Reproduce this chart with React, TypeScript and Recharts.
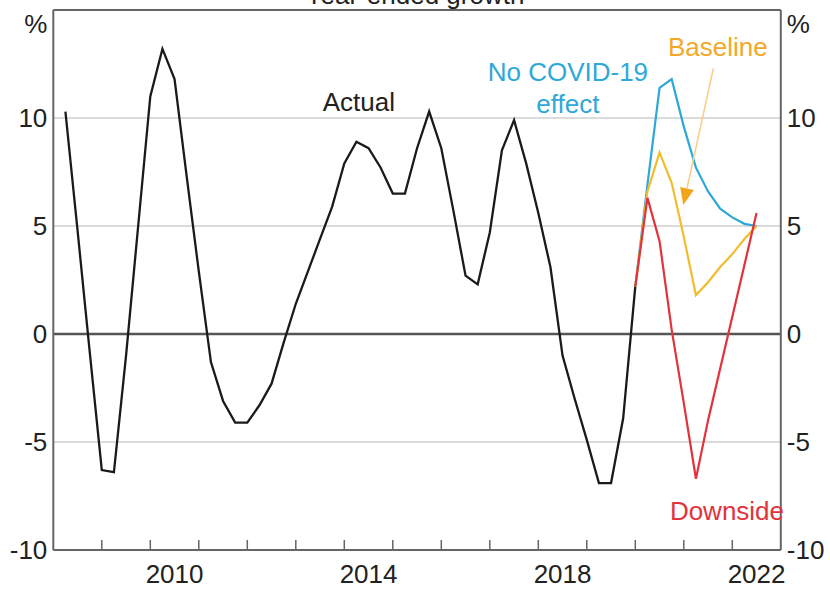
import React from 'react';
import {
  LineChart,
  Line,
  XAxis,
  YAxis,
  CartesianGrid,
  ReferenceLine,
  ReferenceDot,
} from 'recharts';

// Quarterly observations (plotted at end of quarter)
const quarters = [
  '2008Q1', '2008Q2', '2008Q3', '2008Q4',
  '2009Q1', '2009Q2', '2009Q3', '2009Q4',
  '2010Q1', '2010Q2', '2010Q3', '2010Q4',
  '2011Q1', '2011Q2', '2011Q3', '2011Q4',
  '2012Q1', '2012Q2', '2012Q3', '2012Q4',
  '2013Q1', '2013Q2', '2013Q3', '2013Q4',
  '2014Q1', '2014Q2', '2014Q3', '2014Q4',
  '2015Q1', '2015Q2', '2015Q3', '2015Q4',
  '2016Q1', '2016Q2', '2016Q3', '2016Q4',
  '2017Q1', '2017Q2', '2017Q3', '2017Q4',
  '2018Q1', '2018Q2', '2018Q3', '2018Q4',
  '2019Q1', '2019Q2', '2019Q3', '2019Q4',
  '2020Q1', '2020Q2', '2020Q3', '2020Q4',
  '2021Q1', '2021Q2', '2021Q3', '2021Q4',
  '2022Q1', '2022Q2',
];

const actual = [
  10.3, 4.8, -0.8, -6.3, -6.4, -1.0, 5.0, 11.0,
  13.2, 11.8, 7.3, 2.9, -1.3, -3.1, -4.1, -4.1,
  -3.3, -2.3, -0.4, 1.4, 2.9, 4.4, 5.9, 7.9,
  8.9, 8.6, 7.7, 6.5, 6.5, 8.6, 10.3, 8.6,
  5.7, 2.7, 2.3, 4.7, 8.5, 9.9, 7.9, 5.6,
  3.1, -1.0, -3.0, -4.9, -6.9, -6.9, -3.9, 2.2,
];

const forecastStart = '2019Q4';
const noCovid = [2.2, 6.9, 11.4, 11.8, 9.6, 7.7, 6.6, 5.8, 5.4, 5.1, 5.0];
const baseline = [2.2, 6.6, 8.4, 7.0, 4.5, 1.8, 2.4, 3.1, 3.7, 4.4, 5.0];
const downside = [2.2, 6.3, 4.3, 0.2, -3.2, -6.7, -4.0, -1.6, 0.8, 3.2, 5.6];

const yTicks = [-10, -5, 0, 5, 10, 15];
const yearTicks = [2009, 2010, 2011, 2012, 2013, 2014, 2015, 2016, 2017, 2018, 2019, 2020, 2021, 2022];
const yearLabels = [2010, 2014, 2018, 2022];

const toT = (q: string) => Number(q.slice(0, 4)) + Number(q.slice(5)) / 4;
const fcIdx = quarters.indexOf(forecastStart);

const data = quarters.map((q, i) => ({
  t: toT(q),
  actual: i < actual.length ? actual[i] : null,
  noCovid: i >= fcIdx ? noCovid[i - fcIdx] : null,
  baseline: i >= fcIdx ? baseline[i - fcIdx] : null,
  downside: i >= fcIdx ? downside[i - fcIdx] : null,
}));

const xTicks = [...yearTicks, ...yearLabels.map((y) => y + 0.5)].sort((a, b) => a - b);

const FONT = '"Liberation Sans", Arial, sans-serif';
const FS = 26;
const TEXT = '#222';
const AXIS = '#666';

const C_ACTUAL = '#1a1a1a';
const C_BLUE = '#2ea8d8';
const C_YELLOW = '#f2bd2c';
const C_YELLOW_TXT = '#f4a82a';
const C_RED = '#e2323c';

const YTick = (props: any) => {
  const { x, y, payload, textAnchor } = props;
  const isTop = payload.value === 15;
  return (
    <text
      x={x}
      y={isTop ? y + 14 : y}
      dy="0.355em"
      textAnchor={textAnchor}
      fill={TEXT}
      fontSize={FS}
      fontFamily={FONT}
    >
      {isTop ? '%' : String(payload.value)}
    </text>
  );
};

const XTick = (props: any) => {
  const { x, y, payload } = props;
  const v = payload.value;
  if (Number.isInteger(v)) {
    return <line x1={x} x2={x} y1={y} y2={y - 10} stroke={AXIS} strokeWidth={1.5} />;
  }
  return (
    <text x={x} y={y + 15} dy="0.71em" textAnchor="middle" fill={TEXT} fontSize={FS} fontFamily={FONT}>
      {String(Math.floor(v))}
    </text>
  );
};

const makeLabel = (text: string, color: string) => (props: any) => {
  const vb = props.viewBox || {};
  const cx = (vb.x ?? 0) + (vb.width ?? 0) / 2;
  const cy = (vb.y ?? 0) + (vb.height ?? 0) / 2;
  return (
    <text x={cx} y={cy} textAnchor="middle" fill={color} fontSize={FS} fontFamily={FONT}>
      {text}
    </text>
  );
};

const ArrowShape = (p: any) => {
  const { x1, y1, x2, y2 } = p;
  if ([x1, y1, x2, y2].some((v) => typeof v !== 'number' || isNaN(v))) return null;
  const dx = x2 - x1;
  const dy = y2 - y1;
  const len = Math.hypot(dx, dy) || 1;
  const ux = dx / len;
  const uy = dy / len;
  const head = 17;
  const half = 7;
  const bx = x2 - ux * head;
  const by = y2 - uy * head;
  return (
    <g>
      <line x1={x1} y1={y1} x2={bx} y2={by} stroke="#f7cf8a" strokeWidth={1.6} />
      <polygon
        points={`${x2},${y2} ${bx - uy * half},${by + ux * half} ${bx + uy * half},${by - ux * half}`}
        fill="#f2a51c"
      />
    </g>
  );
};

export default function App() {
  return (
    <div style={{ position: 'absolute', left: 0, top: 0, width: 830, height: 593, background: '#fff', overflow: 'hidden' }}>
      <div
        style={{
          position: 'absolute',
          left: 0,
          top: -18,
          width: 830,
          textAlign: 'center',
          fontFamily: FONT,
          fontSize: FS,
          lineHeight: '26px',
          color: TEXT,
        }}
      >
        Year-ended growth
      </div>
      <LineChart
        width={830}
        height={593}
        data={data}
        margin={{ top: 10, right: 4.2, bottom: 8, left: 5.3 }}
      >
        <CartesianGrid vertical={false} stroke="#cfcfcf" strokeWidth={1.5} />
        <XAxis
          dataKey="t"
          type="number"
          domain={[2008, 2023]}
          allowDataOverflow
          ticks={xTicks}
          interval={0}
          tick={<XTick />}
          tickLine={false}
          tickSize={0}
          tickMargin={0}
          height={35}
          axisLine={{ stroke: AXIS, strokeWidth: 2 }}
        />
        <YAxis
          domain={[-10, 15]}
          allowDataOverflow
          ticks={yTicks}
          interval={0}
          width={48}
          tick={<YTick />}
          tickLine={false}
          tickSize={0}
          tickMargin={6}
          axisLine={{ stroke: AXIS, strokeWidth: 2 }}
        />
        <YAxis
          yAxisId="right"
          orientation="right"
          type="number"
          domain={[-10, 15]}
          allowDataOverflow
          ticks={yTicks}
          interval={0}
          width={45}
          tick={<YTick />}
          tickLine={false}
          tickSize={0}
          tickMargin={6}
          axisLine={{ stroke: AXIS, strokeWidth: 2 }}
        />
        <ReferenceLine y={15} stroke={AXIS} strokeWidth={2} />
        <ReferenceLine y={0} stroke="#555" strokeWidth={2.5} />
        <Line dataKey="actual" stroke={C_ACTUAL} strokeWidth={2.3} dot={false} isAnimationActive={false} />
        <Line dataKey="noCovid" stroke={C_BLUE} strokeWidth={2.2} dot={false} isAnimationActive={false} />
        <Line dataKey="baseline" stroke={C_YELLOW} strokeWidth={2.2} dot={false} isAnimationActive={false} />
        <Line dataKey="downside" stroke={C_RED} strokeWidth={2.2} dot={false} isAnimationActive={false} />
        <Line
          yAxisId="right"
          dataKey="actual"
          stroke="none"
          strokeWidth={0}
          dot={false}
          activeDot={false}
          legendType="none"
          isAnimationActive={false}
        />
        <ReferenceLine
          segment={[
            { x: 2021.61, y: 12.3 },
            { x: 2020.99, y: 5.97 },
          ]}
          shape={ArrowShape}
        />
        <ReferenceDot x={2014.3} y={10.32} r={0} fill="none" stroke="none" label={makeLabel('Actual', TEXT)} />
        <ReferenceDot x={2018.61} y={11.71} r={0} fill="none" stroke="none" label={makeLabel('No COVID-19', C_BLUE)} />
        <ReferenceDot x={2018.61} y={10.23} r={0} fill="none" stroke="none" label={makeLabel('effect', C_BLUE)} />
        <ReferenceDot x={2021.7} y={12.87} r={0} fill="none" stroke="none" label={makeLabel('Baseline', C_YELLOW_TXT)} />
        <ReferenceDot x={2021.89} y={-8.61} r={0} fill="none" stroke="none" label={makeLabel('Downside', C_RED)} />
      </LineChart>
    </div>
  );
}
